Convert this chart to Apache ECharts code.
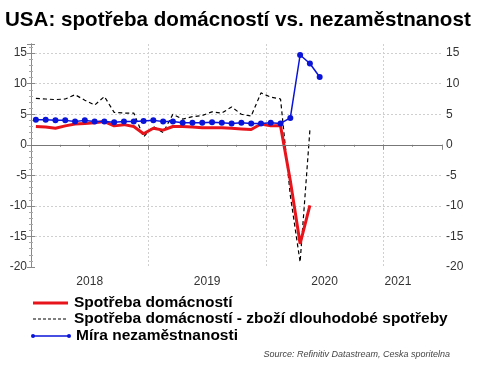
<!DOCTYPE html>
<html>
<head>
<meta charset="utf-8">
<script src="https://cdn.jsdelivr.net/npm/echarts@6/dist/echarts.min.js"></script>
<style>
html, body { margin: 0; padding: 0; background: #fff; }
#main { width: 480px; height: 376px; }
</style>
</head>
<body>
<div id="main"></div>
<script>
// monthly values, Jan 2018 onwards
const yearLabels = ['2018', '2019', '2020', '2021'];
const seriesNames = [
    'Spotřeba domácností',
    'Spotřeba domácností - zboží dlouhodobé spotřeby',
    'Míra nezaměstnanosti'
];
const consumption = [3.0, 2.9, 2.7, 3.1, 3.4, 3.5, 3.6, 3.8, 3.1, 3.3, 3.0, 1.8,
    2.7, 2.4, 3.0, 3.0, 2.9, 2.8, 2.8, 2.8, 2.7, 2.6, 2.5, 3.4,
    3.1, 3.1, -5.9, -16.2, -9.9];
const durables = [7.6, 7.5, 7.4, 7.5, 8.2, 7.3, 6.5, 7.9, 5.3, 5.2, 5.2, 1.3,
    3.0, 2.0, 5.0, 4.2, 4.6, 4.8, 5.4, 5.2, 6.2, 5.0, 4.7, 8.5,
    7.8, 7.5, -8.3, -19.2, 2.4];
const unemployment = [4.1, 4.1, 4.0, 4.0, 3.8, 4.0, 3.8, 3.8, 3.7, 3.8, 3.8, 3.9,
    4.0, 3.8, 3.8, 3.6, 3.6, 3.6, 3.7, 3.6, 3.5, 3.6, 3.5, 3.5,
    3.6, 3.5, 4.4, 14.7, 13.3, 11.1];

// x = months since Jan 2018, point sits mid-month
function toPoints(values) {
    return values.map((v, i) => [i + 0.5, v]);
}

let chart = echarts.init(document.getElementById('main'));

const FONT = 'Liberation Sans';
const axisGray = '#888';
const gridStyle = { color: '#d0d0d0', type: [2, 2], width: 1 };
const legendFont = 'bold 15.5px "Liberation Sans"';

let yAxisBase = {
    type: 'value',
    min: -20,
    max: 16.5,
    interval: 5,
    axisLine: { show: true, lineStyle: { color: axisGray } },
    axisTick: { show: true, length: 4, lineStyle: { color: axisGray } },
    minorTick: { show: true, splitNumber: 5, length: 2, lineStyle: { color: '#aaa' } },
    axisLabel: { color: '#333', fontSize: 12, fontFamily: FONT, showMaxLabel: false, margin: 4 }
};

let opt = {
    backgroundColor: '#fff',
    animation: false,
    title: {
        text: 'USA: spotřeba domácností vs. nezaměstnanost',
        left: 0,
        top: 5,
        textStyle: { fontSize: 20.6, fontWeight: 'bold', color: '#000', fontFamily: FONT }
    },
    grid: { left: 31, right: 38, top: 44, bottom: 109 },
    xAxis: [{
        type: 'value',
        min: 0,
        max: 42,
        interval: 3,
        axisLine: { show: true, lineStyle: { color: axisGray } },
        axisTick: { show: true, length: 2, lineStyle: { color: axisGray } },
        axisLabel: {
            customValues: [6, 18, 30, 37.5],
            formatter: v => yearLabels[Math.floor(v / 12)],
            color: '#333', fontSize: 12, fontFamily: FONT, margin: 9
        },
        splitLine: { show: false }
    }, {
        // year boundaries: longer ticks + vertical grid
        type: 'value',
        min: 0,
        max: 42,
        interval: 12,
        position: 'bottom',
        axisLine: { show: false },
        axisTick: { show: true, length: 5, lineStyle: { color: axisGray } },
        axisLabel: { show: false },
        splitLine: { show: true, showMinLine: false, showMaxLine: false, lineStyle: gridStyle }
    }],
    yAxis: [
        Object.assign({}, yAxisBase, {
            position: 'left',
            splitLine: { show: true, showMinLine: false, showMaxLine: false, lineStyle: gridStyle }
        }),
        Object.assign({}, yAxisBase, {
            position: 'right',
            splitLine: { show: false }
        })
    ],
    series: [{
        name: seriesNames[1],
        type: 'line',
        data: toPoints(durables),
        showSymbol: false,
        symbol: 'none',
        lineStyle: { color: '#000', width: 1.2, type: [4, 3] },
        markLine: {
            silent: true,
            symbol: 'none',
            label: { show: false },
            lineStyle: { color: '#777', type: 'solid', width: 1 },
            data: [{ yAxis: 0 }]
        },
        z: 2
    }, {
        name: seriesNames[0],
        type: 'line',
        data: toPoints(consumption),
        showSymbol: false,
        symbol: 'none',
        lineStyle: { color: '#e8141b', width: 3 },
        z: 3
    }, {
        name: seriesNames[2],
        type: 'line',
        data: toPoints(unemployment),
        symbol: 'circle',
        symbolSize: 6,
        itemStyle: { color: '#0a14d8' },
        lineStyle: { color: '#0a14d8', width: 1.5 },
        z: 4
    }],
    graphic: [
        { type: 'line', shape: { x1: 33, y1: 303, x2: 68, y2: 303 }, style: { stroke: '#e8141b', lineWidth: 3 } },
        { type: 'line', shape: { x1: 33, y1: 319, x2: 68, y2: 319 }, style: { stroke: '#000', lineWidth: 1.2, lineDash: [3, 2] } },
        { type: 'line', shape: { x1: 33, y1: 336, x2: 69, y2: 336 }, style: { stroke: '#0a14d8', lineWidth: 1.5 } },
        { type: 'circle', shape: { cx: 33, cy: 336, r: 2 }, style: { fill: '#0a14d8' } },
        { type: 'circle', shape: { cx: 69, cy: 336, r: 2 }, style: { fill: '#0a14d8' } },
        { type: 'text', x: 74, y: 303, style: { text: seriesNames[0], font: legendFont, fill: '#000', verticalAlign: 'middle' } },
        { type: 'text', x: 74, y: 319, style: { text: seriesNames[1], font: legendFont, fill: '#000', verticalAlign: 'middle' } },
        { type: 'text', x: 76, y: 336, style: { text: seriesNames[2], font: legendFont, fill: '#000', verticalAlign: 'middle' } },
        { type: 'text', x: 450, y: 354, style: { text: 'Source: Refinitiv Datastream, Ceska sporitelna', font: 'italic 9px "Liberation Sans"', fill: '#444', align: 'right', verticalAlign: 'middle' } }
    ]
};

chart.setOption(opt);
</script>
</body>
</html>
